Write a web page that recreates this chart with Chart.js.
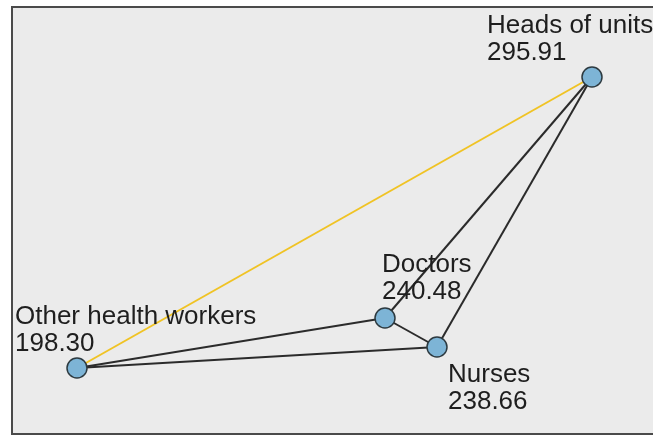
<!DOCTYPE html>
<html>
<head>
<meta charset="utf-8">
<script src="https://cdn.jsdelivr.net/npm/chart.js@4.4.1/dist/chart.umd.min.js"></script>
<style>
  body { margin: 0; background: #fff; overflow: hidden; }
  canvas { display: block; }
</style>
</head>
<body>
<canvas id="myChart" width="653" height="436"></canvas>
<script>
// nodes of the network and their mean scores
const groups = ['Heads of units', 'Doctors', 'Nurses', 'Other health workers'];
const scores = [295.91, 240.48, 238.66, 198.30];
// layout position of each node (same units as the axes)
const layoutX = [592, 385, 437, 77];
const layoutY = [77, 318, 347, 368];
// links between nodes
const linkFrom = [0, 0, 0, 1, 3, 3];
const linkTo = [3, 1, 2, 2, 1, 2];
const highlighted = [true, false, false, false, false, false];

// where each label sits relative to its node (pixels), and line gap
const labelOffset = [[-105, -44], [-3, -46], [11, 35], [-62, -44]];
const lineGap = 27;

const frameAndLabels = {
  id: 'frameAndLabels',
  beforeDraw(chart) {
    const { ctx, chartArea: a } = chart;
    ctx.save();
    ctx.fillStyle = '#ebebeb';
    ctx.fillRect(a.left, a.top, a.right - a.left + 10, a.bottom - a.top);
    ctx.strokeStyle = '#4a4a4a';
    ctx.lineWidth = 2;
    ctx.strokeRect(a.left, a.top, a.right - a.left + 10, a.bottom - a.top);
    ctx.restore();
  },
  afterDatasetsDraw(chart) {
    const { ctx, scales } = chart;
    ctx.save();
    ctx.font = '26px "Liberation Sans", Arial, sans-serif';
    ctx.fillStyle = '#1e1e1e';
    ctx.textBaseline = 'alphabetic';
    groups.forEach(function (name, i) {
      const px = scales.x.getPixelForValue(layoutX[i]) + labelOffset[i][0];
      const py = scales.y.getPixelForValue(layoutY[i]) + labelOffset[i][1];
      ctx.fillText(name, px, py);
      ctx.fillText(scores[i].toFixed(2), px, py + lineGap);
    });
    ctx.restore();
  }
};

let datasets = [];
linkFrom.forEach(function (f, k) {
  const t = linkTo[k];
  datasets.push({
    data: [{ x: layoutX[f], y: layoutY[f] }, { x: layoutX[t], y: layoutY[t] }],
    showLine: true,
    borderColor: highlighted[k] ? '#f0c324' : '#2b2b2b',
    borderWidth: 2,
    pointRadius: 0,
    order: 1
  });
});
datasets.push({
  data: groups.map(function (g, i) { return { x: layoutX[i], y: layoutY[i] }; }),
  pointRadius: 10,
  pointBackgroundColor: '#7db4d6',
  pointBorderColor: '#2d3a40',
  pointBorderWidth: 1.5,
  order: 0
});

new Chart(document.getElementById('myChart'), {
  type: 'scatter',
  data: { datasets: datasets },
  options: {
    responsive: false,
    animation: false,
    layout: { autoPadding: false, padding: { left: 12, top: 7, right: 0, bottom: 2 } },
    plugins: { legend: { display: false }, tooltip: { enabled: false } },
    scales: {
      x: { display: false, min: 12, max: 653 },
      y: { display: false, min: 7, max: 434, reverse: true }
    }
  },
  plugins: [frameAndLabels]
});
</script>
</body>
</html>
